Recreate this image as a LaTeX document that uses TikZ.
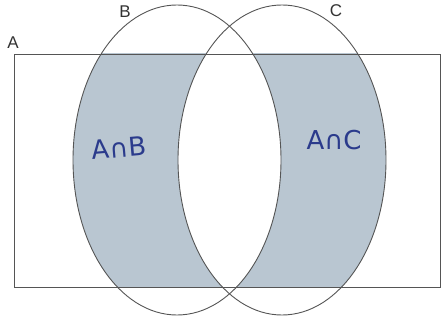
\documentclass[tikz,border=0pt]{standalone}
\usepackage{fontspec}
\setmainfont{Liberation Sans}
\newfontfamily\handfont{DejaVu Sans}
\definecolor{regionfill}{HTML}{B9C6D1}
\definecolor{ink}{HTML}{2B3B8C}
\definecolor{edge}{HTML}{555555}
\begin{document}
\begin{tikzpicture}[x=1pt,y=-1pt,
  outline/.style={draw=edge,line width=0.9pt},
  setlabel/.style={font=\fontsize{17}{17}\selectfont,text=black!80,inner sep=0pt},
  handlabel/.style={font=\handfont\fontsize{26}{26}\selectfont,text=ink,inner sep=0pt}]
\useasboundingbox (0,0) rectangle (442,321);
\fill[white] (0,0) rectangle (442,321);
\begin{scope}
  \clip (14,54) rectangle (440,287);
  \fill[regionfill,even odd rule] (177,160) ellipse [x radius=104,y radius=155]
                             (282,160) ellipse [x radius=104,y radius=155];
\end{scope}
\draw[outline] (14,54) rectangle (440,287);
\draw[outline] (177,160) ellipse [x radius=104,y radius=155];
\draw[outline] (282,160) ellipse [x radius=104,y radius=155];
\node[setlabel] (la) at (13,43) {A};
\node[setlabel] (lb) at (125,12) {B};
\node[setlabel] (lc) at (336,11) {C};
\node[handlabel,rotate=5] (ab) at (119,148) {A∩B};
\node[handlabel] (ac) at (334,140) {A∩C};
\end{tikzpicture}
\end{document}
